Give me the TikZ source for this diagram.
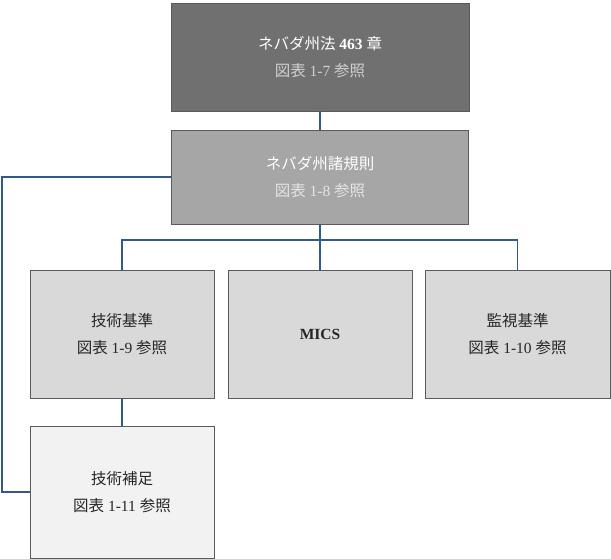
\documentclass[tikz,border=0pt]{standalone}
\usepackage{fontspec}
\setmainfont{Liberation Serif}
\newfontfamily\jp{Noto Sans CJK JP}
\newcommand\J[1]{{\jp #1}}
\definecolor{fillA}{RGB}{112,112,112}
\definecolor{fillB}{RGB}{166,166,166}
\definecolor{fillC}{RGB}{217,217,217}
\definecolor{fillD}{RGB}{242,242,242}
\definecolor{edge}{RGB}{90,90,90}
\definecolor{conncol}{RGB}{50,88,140}
\definecolor{lightA}{RGB}{208,208,208}
\definecolor{lightB}{RGB}{228,228,228}
\tikzset{
  box/.style={draw=edge, line width=0.9pt, rectangle, align=center,
    font=\fontsize{15.5}{27.5}\selectfont, inner sep=0pt},
  conn/.style={draw=conncol, line width=1.3pt},
}
\begin{document}
\begin{tikzpicture}[x=1pt,y=-1pt]
\useasboundingbox (0,0) rectangle (611,558);
\node[box, fill=fillA, text=white, minimum width=298pt, minimum height=108pt] (law) at (320,57)
  {\J{ネバダ州法} \textbf{463} \J{章}\\ \textcolor{lightA}{\J{図表} 1-7 \J{参照}}};
\node[box, fill=fillB, text=white, minimum width=297pt, minimum height=94pt] (reg) at (320,177)
  {\J{ネバダ州諸規則}\\ \textcolor{lightB}{\J{図表} 1-8 \J{参照}}};
\node[box, fill=fillC, text=black!85, minimum width=184pt, minimum height=128pt] (tech) at (122,334)
  {\J{技術基準}\\ \J{図表} 1-9 \J{参照}};
\node[box, fill=fillC, text=black!85, minimum width=184pt, minimum height=128pt] (mics) at (320,334)
  {\textbf{MICS}};
\node[box, fill=fillC, text=black!85, minimum width=185pt, minimum height=128pt] (mon) at (517.5,334)
  {\J{監視基準}\\ \J{図表} 1-10 \J{参照}};
\node[box, fill=fillD, text=black!85, minimum width=184pt, minimum height=132pt] (supp) at (122,492)
  {\J{技術補足}\\ \J{図表} 1-11 \J{参照}};
\coordinate (bus) at (0,240);
\coordinate (lx) at (2,0);
\draw[conn] (law.south) -- (reg.north);
\draw[conn] (reg.south) -- (reg.south |- mics.north);
\draw[conn] (tech.north) -- (tech.north |- bus) -- (mon.north |- bus) -- (mon.north);
\draw[conn] (tech.south) -- (supp.north);
\draw[conn] (reg.west) -- (reg.west -| lx) -- (lx |- supp.west) -- (supp.west);
\end{tikzpicture}
\end{document}
